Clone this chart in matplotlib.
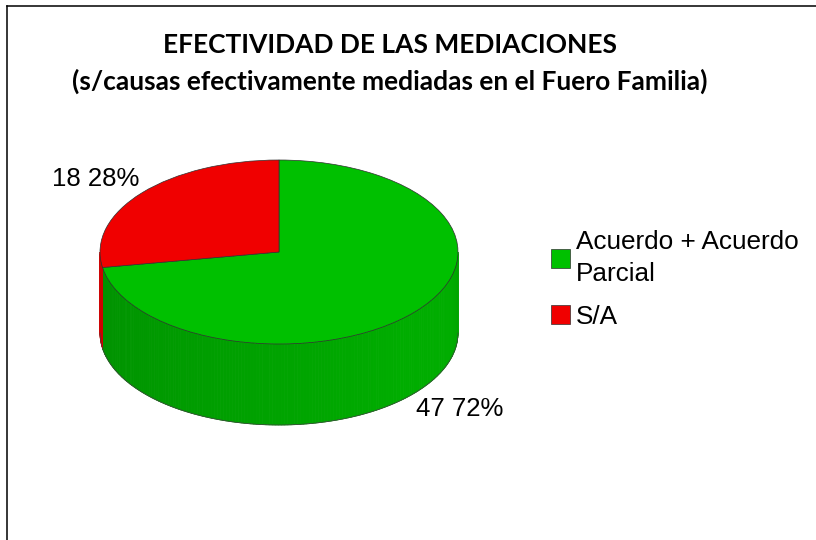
import numpy as np
import matplotlib.pyplot as plt
from matplotlib.patches import Polygon
from matplotlib.lines import Line2D

# data
labels = ['Acuerdo + Acuerdo\nParcial', 'S/A']
values = [47, 18]
top_colors = ['#00C000', '#F00000']
side_dark = [(0.0, 0.56, 0.0), (0.80, 0.0, 0.0)]
side_light = [(0.0, 0.68, 0.0), (0.88, 0.0, 0.0)]

W, H = 816, 540
fig = plt.figure(figsize=(W / 100, H / 100), dpi=100)

# frame (only top and left edges are visible in the crop)
fig.add_artist(Line2D([7 / W, 7 / W], [0, 1 - 6 / H], color='black', lw=1.1))
fig.add_artist(Line2D([7 / W, 1], [1 - 6 / H, 1 - 6 / H], color='black', lw=1.1))

fig.text(390 / W, 1 - 45 / H, 'EFECTIVIDAD DE LAS MEDIACIONES', ha='center', va='center',
         fontsize=19, fontweight='bold', family='Lato')
fig.text(390 / W, 1 - 81 / H, '(s/causas efectivamente mediadas en el Fuero Familia)',
         ha='center', va='center', fontsize=19, fontweight='bold', family='Lato')

# pie geometry in pixels
cx, cy, rx, ry, depth = 279, 252, 179, 92, 81
d = depth / ry
xl, yl_lo, yl_hi = 1.5, -2.6, 1.4
ax = fig.add_axes([(cx - xl * rx) / W, (H - (cy - yl_lo * ry)) / H,
                   2 * xl * rx / W, (yl_hi - yl_lo) * ry / H])

wedges, _ = ax.pie(values, startangle=90, counterclock=False, colors=top_colors,
                   wedgeprops=dict(edgecolor='#303030', linewidth=0.5, zorder=5))
ax.set_aspect('auto')
ax.set_xlim(-xl, xl)
ax.set_ylim(yl_lo, yl_hi)
ax.axis('off')

# side wall of the front half
for i, w in enumerate(wedges):
    t1 = w.theta1 % 360
    t2 = t1 + (w.theta2 - w.theta1)
    lo, hi = max(t1, 180), min(t2, 360)
    if hi <= lo:
        continue
    angs = np.linspace(lo, hi, max(int(hi - lo), 2) + 1)
    for a0, a1 in zip(angs[:-1], angs[1:]):
        t = ((a0 + a1) / 2 - 180) / 180
        k = min(t / 0.75, 1.0) if t < 0.9 else 1 - (t - 0.9) * 3
        c = tuple(side_dark[i][j] + (side_light[i][j] - side_dark[i][j]) * k for j in range(3))
        r0, r1 = np.radians(a0), np.radians(a1)
        pts = [(np.cos(r0), np.sin(r0)), (np.cos(r1), np.sin(r1)),
               (np.cos(r1), np.sin(r1) - d), (np.cos(r0), np.sin(r0) - d)]
        ax.add_patch(Polygon(pts, closed=True, facecolor=c, edgecolor=c, lw=0.6, zorder=2))

# outline of the wall
th = np.radians(np.linspace(180, 360, 200))
ax.plot(np.cos(th), np.sin(th) - d, color='#404040', lw=0.5, zorder=3)

# data labels
total = sum(values)
for v, w in zip(values, wedges):
    mid = np.radians((w.theta1 + w.theta2) / 2)
    x, y = np.cos(mid), np.sin(mid)
    txt = f'{v} {round(100 * v / total)}%'
    if y < 0:
        ax.text(x * 1.0, y * 1.02 - d - 0.035, txt, ha='left', va='top', fontsize=18.5,
                family='Liberation Sans')
    else:
        ax.text(x * 1.02, y * 1.02, txt, ha='right', va='bottom', fontsize=18.5,
                family='Liberation Sans')

# legend
leg = ax.legend(wedges, labels, loc='upper left', bbox_to_anchor=(538 / W, 1 - 217 / H),
                bbox_transform=fig.transFigure, frameon=False, handlelength=0.72,
                handleheight=0.72, handletextpad=0.22, labelspacing=0.72, borderpad=0,
                prop={'family': 'Liberation Sans', 'size': 18.8})
for t in leg.get_texts():
    t.set_linespacing(1.42)

fig.savefig('out.png', dpi=100)
